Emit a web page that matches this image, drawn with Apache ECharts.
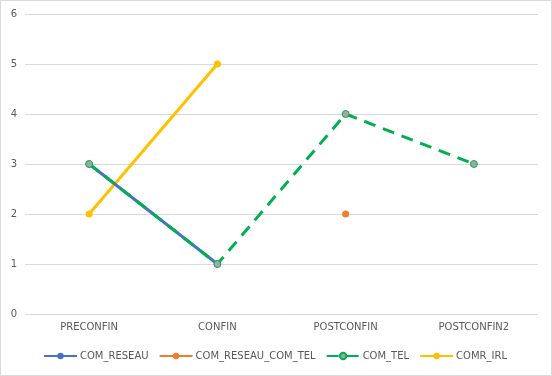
<!DOCTYPE html>
<html><head><meta charset="utf-8">
<script src="https://cdn.jsdelivr.net/npm/echarts@6/dist/echarts.min.js"></script>
<style>html,body{margin:0;padding:0;background:#fff}#c{width:552px;height:376px;box-sizing:border-box;border:1px solid #d9d9d9}</style>
</head><body><div id="c"></div>
<script>
const categories = ['PRECONFIN','CONFIN','POSTCONFIN','POSTCONFIN2'];
const comReseau = [3, 1, null, null];
const comReseauComTel = [null, null, 2, null];
const comTel = [3, 1, 4, 3];
const comrIrl = [2, 5, null, null];
const yTicks = [0, 6, 1];

const chart = echarts.init(document.getElementById('c'), null, {renderer:'canvas'});
const font = 'DejaVu Sans';
chart.setOption({
  animation:false,
  backgroundColor:'#ffffff',
  grid:{left:24, right:13, top:13, bottom:61},
  legend:{bottom:9, left:37, itemWidth:33, itemHeight:8, itemGap:10,
    textStyle:{color:'#595959', fontFamily:font, fontSize:10, padding:[0,0,0,-2]},
    data:['COM_RESEAU','COM_RESEAU_COM_TEL','COM_TEL','COMR_IRL']},
  xAxis:{type:'category', data:categories, boundaryGap:true,
    axisLine:{show:false}, axisTick:{show:false},
    axisLabel:{color:'#595959', fontFamily:font, fontSize:10, margin:8}},
  yAxis:{type:'value', min:yTicks[0], max:yTicks[1], interval:yTicks[2],
    axisLine:{show:false}, axisTick:{show:false},
    axisLabel:{color:'#595959', fontFamily:font, fontSize:10, margin:8},
    splitLine:{lineStyle:{color:'#d9d9d9', width:1}}},
  series:[
    {name:'COM_RESEAU', type:'line', data:comReseau, connectNulls:false,
      symbol:'circle', symbolSize:7, color:'#4472c4',
      lineStyle:{width:3, color:'#4472c4'}, itemStyle:{color:'#4472c4'}},
    {name:'COM_RESEAU_COM_TEL', type:'line', data:comReseauComTel,
      symbol:'circle', symbolSize:7, color:'#ed7d31',
      lineStyle:{width:3, color:'#ed7d31'}, itemStyle:{color:'#ed7d31'}},
    {name:'COM_TEL', type:'line', data:comTel,
      symbol:'circle', symbolSize:7, color:'#00b050',
      lineStyle:{width:3, color:'#00b050', type:[12,8]},
      itemStyle:{color:'#a5a5a5', borderColor:'#00b050', borderWidth:1}},
    {name:'COMR_IRL', type:'line', data:comrIrl, z:1,
      symbol:'circle', symbolSize:7, color:'#ffc000',
      lineStyle:{width:3, color:'#ffc000'}, itemStyle:{color:'#ffc000'}}
  ]
});
</script></body></html>
